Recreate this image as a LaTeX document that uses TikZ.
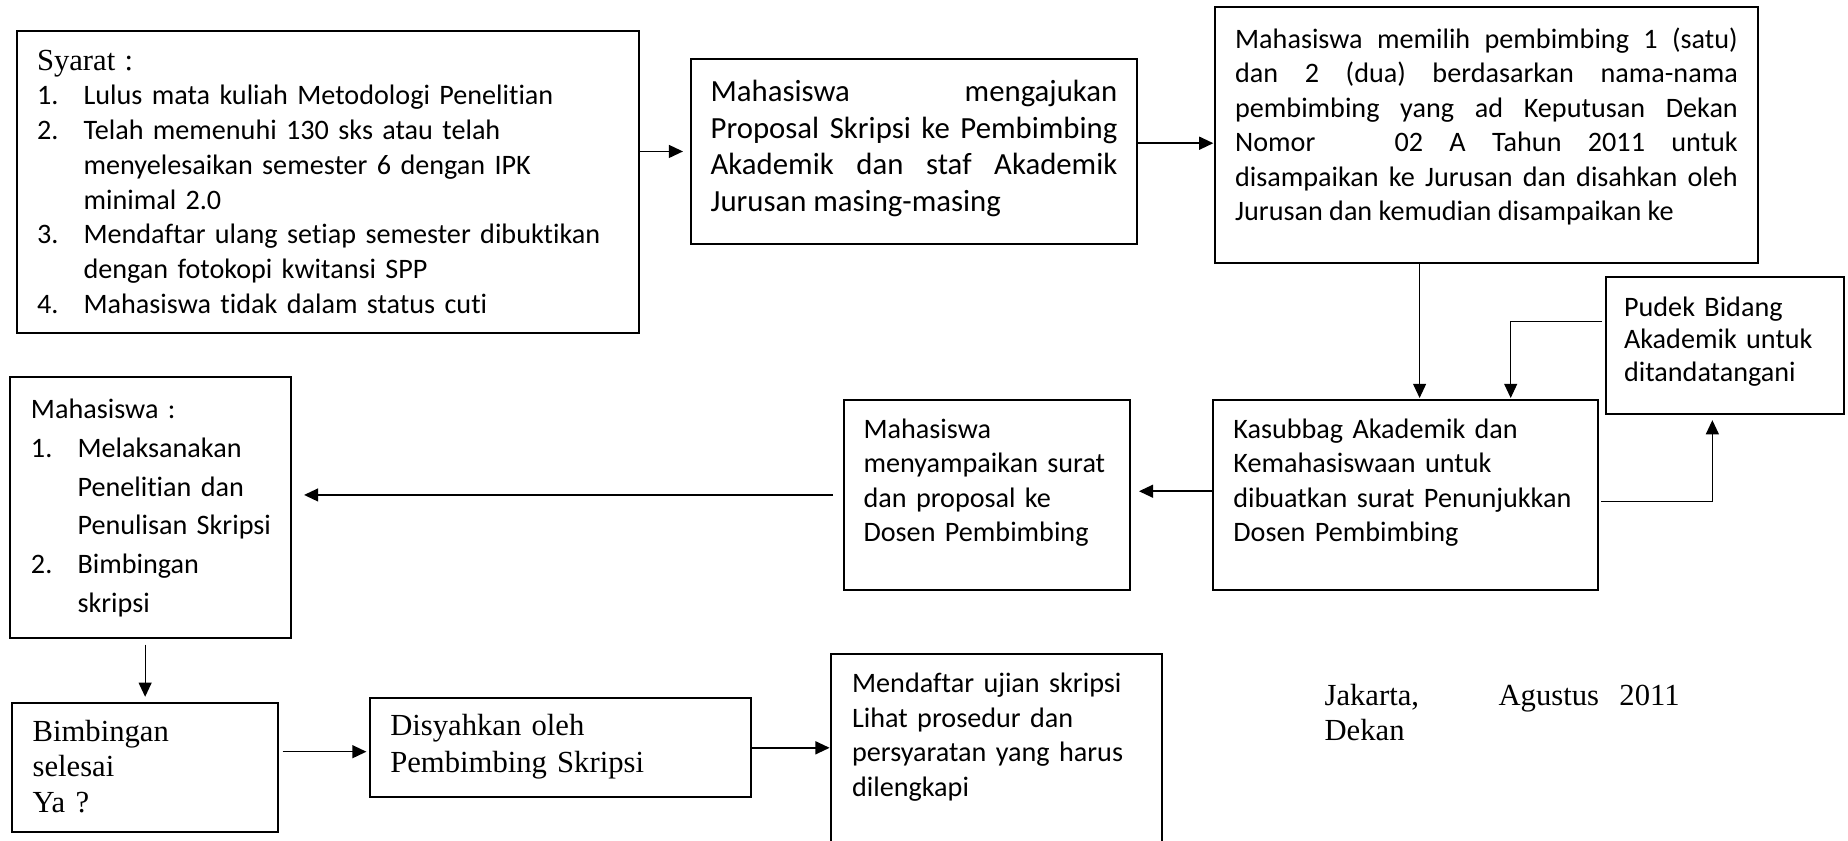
\documentclass[tikz,border=0pt]{standalone}
\usepackage{fontspec}
\setmainfont{Carlito}[Ligatures=NoCommon]
\newfontfamily\fonttimes{Liberation Serif}
\usetikzlibrary{arrows.meta}

\newcommand{\butir}[2]{\makebox[39.5pt][l]{#1}#2}
\newcommand{\lanjut}[1]{\hspace*{39.5pt}#1}

\tikzset{
	kotak/.style={draw, line width=1.6pt, anchor=north west, outer sep=0pt, inner ysep=0pt, align=left},
	panah/.style={-{Triangle[length=12pt,width=11pt]}, line width=1.3pt},
	tipis/.style={line width=1pt},
}

\begin{document}
\begin{tikzpicture}[x=1pt, y=-1pt]
	\useasboundingbox (0,0) rectangle (1568,713);
	\clip (0,0) rectangle (1568,713);
	% baris atas
	\node[kotak, inner xsep=17pt, text width=494pt, text height=33.1pt, text depth=223.4pt,
		font=\fontsize{23.9}{29.5}\selectfont] (syarat) at (14.4,26.3)
		{{\fonttimes\fontsize{26}{29.5}\selectfont Syarat :}\\
		\butir{1.}{Lulus mata kuliah Metodologi Penelitian}\\
		\butir{2.}{Telah memenuhi 130 sks atau telah}\\
		\lanjut{menyelesaikan semester 6 dengan IPK}\\
		\lanjut{minimal 2.0}\\
		\butir{3.}{Mendaftar ulang setiap semester dibuktikan}\\
		\lanjut{dengan fotokopi kwitansi SPP}\\
		\butir{4.}{Mahasiswa tidak dalam status cuti}};
	\node[kotak, align=justify, inner xsep=16.5pt, text width=345pt, text height=35.7pt, text depth=120.7pt,
		font=\fontsize{26.1}{31.1}\selectfont] (mengajukan) at (586.5,50.3)
		{Mahasiswa mengajukan\linebreak Proposal Skripsi ke Pembimbing\linebreak Akademik dan staf Akademik\linebreak Jurusan masing-masing};
	\node[kotak, align=justify, inner xsep=17pt, text width=426.5pt, text height=34.7pt, text depth=181.9pt,
		font=\fontsize{23.9}{29.25}\selectfont] (memilih) at (1031,6.2)
		{Mahasiswa memilih pembimbing 1 (satu)\linebreak dan 2 (dua) berdasarkan nama-nama\linebreak pembimbing yang ad Keputusan Dekan\linebreak Nomor\ \ \ 02 A Tahun 2011 untuk\linebreak disampaikan ke Jurusan dan disahkan oleh\linebreak Jurusan dan kemudian disampaikan ke};
	% baris tengah
	\node[kotak, inner xsep=15.6pt, text width=171pt, text height=33.5pt, text depth=82.8pt,
		font=\fontsize{23.9}{27.3}\selectfont] (pudek) at (1362.4,235.2)
		{Pudek Bidang\\ Akademik untuk\\ ditandatangani};
	\node[kotak, inner xsep=17pt, text width=292.2pt, text height=32.7pt, text depth=128.5pt,
		font=\fontsize{23.9}{29.2}\selectfont] (kasubbag) at (1029.5,339.2)
		{Kasubbag Akademik dan\\ Kemahasiswaan untuk\\ dibuatkan surat~Penunjukkan\\ Dosen Pembimbing};
	\node[kotak, inner xsep=16.9pt, text width=208.8pt, text height=32.6pt, text depth=128.5pt,
		font=\fontsize{23.9}{29.2}\selectfont] (menyampaikan) at (715.8,339.4)
		{Mahasiswa\\ menyampaikan~surat\\ dan proposal ke\\ Dosen Pembimbing};
	\node[kotak, inner xsep=17.5pt, text width=203.2pt, text height=35.8pt, text depth=185.7pt,
		font=\fontsize{23.9}{32.8}\selectfont] (mahasiswa) at (8.8,319.5)
		{Mahasiswa :\\ \butir{1.}{Melaksanakan}\\ \lanjut{Penelitian dan}\\ \lanjut{Penulisan~Skripsi}\\ \butir{2.}{Bimbingan}\\ \lanjut{skripsi}};
	% baris bawah
	\node[kotak, inner xsep=17.2pt, text width=190.9pt, text height=32.8pt, text depth=76.6pt,
		font=\fonttimes\fontsize{26}{30}\selectfont] (bimbingan) at (10.5,596.2)
		{Bimbingan\\ selesai\\ Ya ?};
	\node[kotak, inner xsep=17.3pt, text width=288.5pt, text height=31.8pt, text depth=52.2pt,
		font=\fonttimes\fontsize{26}{31.1}\selectfont] (disyahkan) at (313.9,592.5)
		{Disyahkan oleh\\ Pembimbing Skripsi};
	\node[kotak, inner xsep=17.6pt, text width=245.6pt, text height=32.5pt, text depth=150pt,
		font=\fontsize{23.9}{29.4}\selectfont] (mendaftar) at (705.4,555)
		{Mendaftar ujian skripsi\\ Lihat prosedur dan\\ persyaratan yang harus\\ dilengkapi};
	\node[anchor=north west, inner sep=0pt, text width=320pt, text height=28.2pt, text depth=40pt, align=left,
		font=\fonttimes\fontsize{26}{29.7}\selectfont] (tanggal) at (1123.7,570)
		{\makebox[147.6pt][l]{Jakarta,}Agustus\ \ 2011\\ Dekan};
	% panah
	\draw[panah, shorten >=7pt] (syarat.east |- mengajukan.west) -- (mengajukan.west);
	\draw[panah, shorten >=1.5pt] ([yshift=7pt]mengajukan.east) -- ([yshift=7pt]mengajukan.east -| memilih.west);
	\draw[panah, tipis, shorten >=1.5pt] ([xshift=11.9pt]kasubbag.north |- memilih.south) -- ([xshift=11.9pt]kasubbag.north);
	\draw[panah, tipis, shorten <=3pt, shorten >=1.5pt] ([yshift=20.4pt]pudek.west) -| ([xshift=89.2pt]kasubbag.north);
	\draw[panah, tipis, shorten <=3pt, shorten >=5pt] ([yshift=-5.4pt]kasubbag.east) -| ([xshift=-10.6pt]pudek.south);
	\draw[panah, shorten >=8pt] ([yshift=3pt]kasubbag.west) -- ([yshift=3pt]kasubbag.west -| menyampaikan.east);
	\draw[panah, shorten <=9pt, shorten >=11pt] (menyampaikan.west) -- (menyampaikan.west -| mahasiswa.east);
	\draw[panah, tipis, shorten <=6pt, shorten >=5pt] (mahasiswa.south -| bimbingan.north) -- (bimbingan.north);
	\draw[panah, shorten <=4pt, shorten >=3pt] ([yshift=-3.3pt]disyahkan.west -| bimbingan.east) -- ([yshift=-3.3pt]disyahkan.west);
	\draw[panah, shorten >=1.5pt] (disyahkan.east) -- (disyahkan.east -| mendaftar.west);
\end{tikzpicture}
\end{document}
